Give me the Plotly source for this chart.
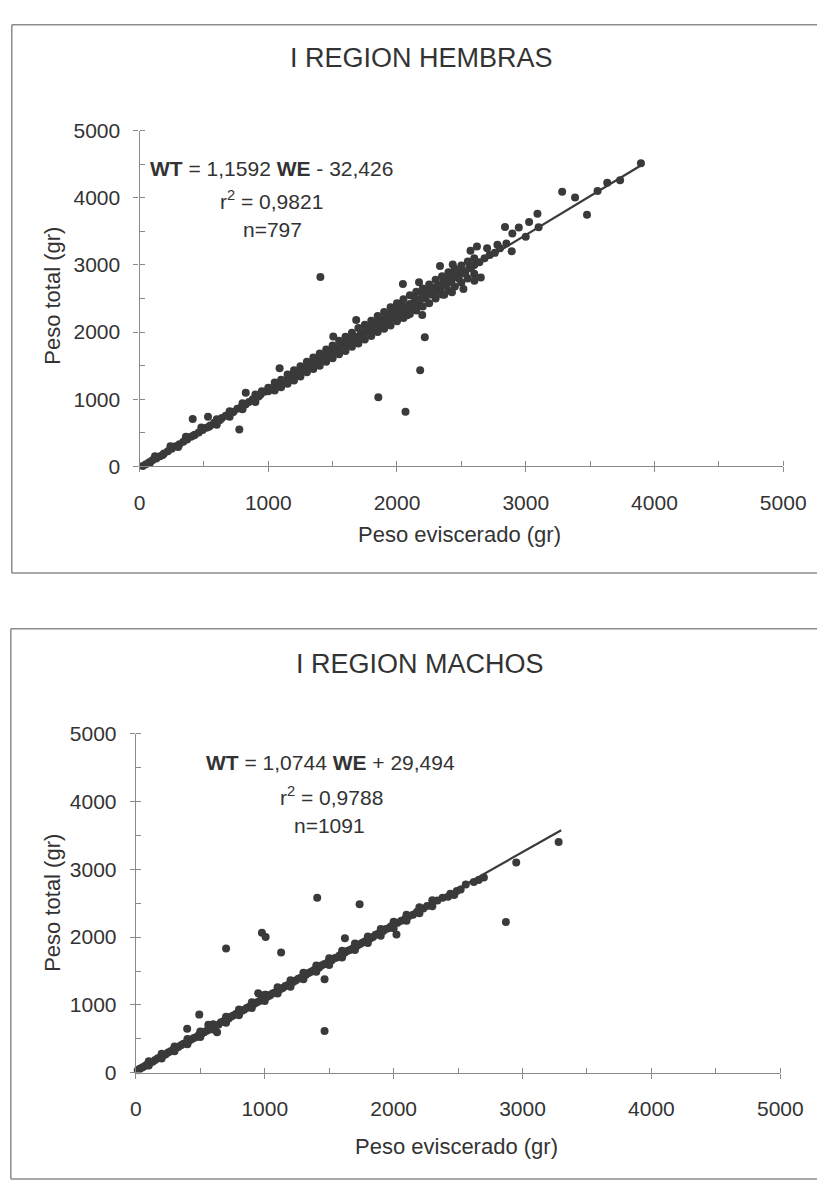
import plotly.graph_objects as go

# ---------------- data ----------------
hem_we = [25, 50, 75, 100, 130, 160, 190, 220, 250, 280, 310, 340, 370, 400, 430, 460, 490, 520,
          550, 580, 610, 640, 670, 700, 730, 760, 790, 820, 850, 880, 910, 940, 970, 1000, 1000,
          1030, 1060, 1090, 1100, 1120, 1150, 1170, 1200, 1220, 1250, 1270, 1300, 1310, 1340,
          1360, 1380, 1400, 1420, 1440, 1460, 1480, 1500, 1520, 1540, 1560, 1580, 1600, 1620,
          1640, 1660, 1680, 1700, 1720, 1740, 1760, 1780, 1800, 1820, 1840, 1860, 1880, 1900,
          1920, 1940, 1960, 1980, 2000, 2000, 2020, 2040, 2060, 2080, 2100, 2120, 2140, 2160,
          2180, 2200, 2220, 2240, 2260, 2280, 2300, 2320, 2340, 2360, 2380, 2400, 2420, 2450,
          2480, 2500, 2530, 2560, 2600, 2640, 2680, 2720, 2760, 2800,
          80, 120, 180, 240, 300, 360, 420, 480, 540,
          600, 600, 700, 700, 800, 800, 900, 900, 950, 1050, 1050, 1100, 1150, 1150, 1200, 1200,
          1250, 1250, 1300, 1300, 1350, 1350, 1400, 1400, 1450, 1450, 1500, 1500, 1550, 1550,
          1600, 1600, 1650, 1650, 1700, 1700, 1750, 1750, 1800, 1800, 1850, 1850, 1900, 1900,
          1950, 1950, 2000, 2000, 2050, 2050, 2100, 2100, 2150, 2150, 2200, 2200, 2250, 2250,
          2300, 2300, 2350, 2350, 2400, 2400, 2450, 2450, 2500, 2500, 2550, 2550, 2600, 2600,
          625, 725, 825, 925, 1025, 1075, 1125, 1175, 1225, 1275, 1325, 1375, 1425, 1475, 1525,
          1575, 1625, 1675, 1725, 1775, 1825, 1875, 1925, 1975, 2025, 2075, 2125, 2175, 2225,
          2275, 2325, 2375, 2425, 2475, 2525, 2575,
          2433, 2334, 2171, 2046, 2621, 2571, 2651, 2601, 2516, 2427, 2367, 2196, 2216, 2180,
          1855, 2066, 1405, 413, 532, 775, 1088, 825, 1505, 1683,
          2700, 2780, 2850, 2891, 2896, 2839, 2946, 3000, 3026, 3091, 3100, 3476, 3383, 3283,
          3558, 3633, 3733, 3895]
hem_wt = [5, 30, 60, 90, 118, 150, 190, 225, 262, 300, 330, 365, 402, 440, 470, 505, 540, 575,
          610, 650, 680, 720, 755, 790, 815, 860, 880, 920, 960, 1000, 1040, 1070, 1110, 1120, 1170,
          1160, 1220, 1230, 1290, 1260, 1300, 1350, 1340, 1400, 1390, 1450, 1440, 1520, 1510,
          1560, 1530, 1610, 1600, 1660, 1640, 1710, 1680, 1760, 1740, 1800, 1770, 1850, 1820,
          1900, 1860, 1930, 1900, 1990, 1960, 2040, 2000, 2090, 2040, 2140, 2090, 2190, 2130,
          2240, 2180, 2300, 2230, 2350, 2200, 2280, 2400, 2330, 2250, 2420, 2370, 2500, 2440,
          2400, 2560, 2500, 2620, 2560, 2660, 2600, 2700, 2640, 2760, 2700, 2800, 2740, 2860,
          2800, 2900, 2870, 2950, 3000, 3040, 3100, 3150, 3180, 3250,
          50, 150, 170, 300, 290, 440, 460, 580, 590,
          620, 700, 740, 820, 850, 940, 960, 1070, 1120, 1130, 1250, 1180, 1230, 1370, 1280, 1430,
          1340, 1490, 1400, 1560, 1450, 1620, 1500, 1680, 1560, 1740, 1610, 1800, 1670, 1870,
          1720, 1930, 1780, 1990, 1830, 2060, 1890, 2110, 1940, 2170, 2000, 2240, 2050, 2300,
          2100, 2370, 2160, 2430, 2210, 2490, 2270, 2550, 2320, 2600, 2380, 2650, 2430, 2710,
          2500, 2780, 2560, 2830, 2620, 2890, 2680, 2940, 2740, 2990, 2800, 3050, 2870, 3100,
          690, 810, 925, 1040, 1160, 1215, 1270, 1330, 1385, 1445, 1505, 1560, 1620, 1680, 1735,
          1795, 1850, 1910, 1965, 2025, 2085, 2140, 2200, 2260, 2315, 2375, 2430, 2490, 2545,
          2605, 2660, 2720, 2780, 2835, 2895, 2950,
          3008, 2984, 2741, 2716, 3276, 3211, 2813, 2765, 2643, 2594, 2555, 2255, 1924, 1430,
          1030, 812, 2820, 706, 739, 550, 1461, 1096, 1933, 2181,
          3250, 3300, 3320, 3203, 3469, 3567, 3557, 3420, 3640, 3761, 3560, 3746, 4004, 4091,
          4101, 4223, 4261, 4515]

mac_we = [15, 30, 50, 70, 90, 110, 130, 150, 170, 190, 210, 230, 250, 270, 290, 310, 330, 350,
          370, 390, 410, 430, 450, 470, 490, 510, 530, 550, 562, 570, 590, 610, 630, 640, 660,
          680, 700, 720, 740, 760, 780, 800, 820, 840, 860, 880, 900, 920, 940, 960, 980, 1000,
          1010, 1020, 1040, 1060, 1080, 1100, 1120, 1140, 1160, 1180, 1200, 1220, 1240, 1260,
          1280, 1300, 1320, 1340, 1360, 1380, 1400, 1420, 1440, 1460, 1480, 1500, 1520, 1540,
          1560, 1580, 1600, 1620, 1640, 1660, 1680, 1700, 1720, 1740, 1760, 1780, 1800, 1820,
          1840, 1860, 1880, 1900, 1920, 1940, 1960, 1980, 2000, 2030, 2060, 2090, 2120, 2150,
          2180, 2200, 2230, 2260, 2300, 2340, 2380, 2422, 2440, 2470, 2490, 2520, 2560, 2622,
          2660, 2700, 2951, 3280,
          100, 100, 200, 200, 300, 300, 400, 400, 500, 500, 600, 600, 700, 700, 800, 800,
          900, 900, 1000, 1000, 1100, 1100, 1200, 1200, 1300, 1300, 1400, 1400, 1500, 1500,
          1600, 1600, 1700, 1700, 1800, 1800, 1900, 1900, 2000, 2000, 2100, 2100, 2200, 2200,
          2300, 2300,
          1407, 1736, 1622, 978, 1007, 700, 1127, 1464, 1464, 492, 398, 949, 2022, 2871]
mac_wt = [40, 62, 80, 100, 128, 150, 165, 190, 215, 230, 255, 272, 300, 318, 340, 365, 380, 405,
          428, 445, 470, 490, 515, 530, 560, 575, 600, 620, 708, 640, 665, 690, 600, 710, 745,
          760, 785, 800, 830, 850, 870, 885, 912, 930, 955, 975, 995, 1020, 1040, 1060, 1085, 1100,
          1150, 1120, 1140, 1170, 1185, 1215, 1230, 1250, 1280, 1295, 1320, 1340, 1360, 1385,
          1400, 1430, 1445, 1470, 1490, 1510, 1540, 1550, 1580, 1600, 1615, 1650, 1660, 1690,
          1700, 1730, 1745, 1770, 1795, 1810, 1830, 1860, 1875, 1900, 1920, 1940, 1960, 1985,
          2000, 2035, 2050, 2075, 2090, 2120, 2130, 2160, 2180, 2210, 2240, 2270, 2310, 2330,
          2370, 2400, 2420, 2460, 2490, 2540, 2580, 2595, 2640, 2620, 2680, 2700, 2774, 2812,
          2840, 2880, 3101, 3401,
          110, 170, 210, 280, 320, 390, 420, 500, 530, 610, 640, 715, 740, 825, 850, 935,
          955, 1040, 1060, 1150, 1170, 1260, 1270, 1365, 1380, 1475, 1490, 1580, 1590, 1690,
          1700, 1800, 1810, 1905, 1915, 2010, 2020, 2120, 2130, 2225, 2240, 2330, 2350, 2440,
          2455, 2545,
          2581, 2485, 1983, 2065, 2002, 1833, 1775, 1380, 618, 858, 651, 1172, 2040, 2224]

titles = ["I REGION HEMBRAS", "I REGION MACHOS"]
slopes = [1.1592, 1.0744]
intercepts = [-32.426, 29.494]
line_x = [[28, 3900], [0, 3300]]
eq_text = ["<b>WT</b> = 1,1592 <b>WE</b> - 32,426", "<b>WT</b> = 1,0744 <b>WE</b> + 29,494"]
r2_text = ["r<sup>2</sup> = 0,9821", "r<sup>2</sup> = 0,9788"]
n_text = ["n=797", "n=1091"]
x_title = "Peso eviscerado (gr)"
y_title = "Peso total (gr)"

# ---------------- layout geometry ----------------
W, H = 840, 1193
def px(x):
    return x / W
def py(y):
    return 1 - y / H

FONT = "Liberation Sans, Arial, sans-serif"
TXT = "#333333"
AX = "#8a8a8a"
MK = "#3a3a3a"

fig = go.Figure()

series = [(hem_we, hem_wt), (mac_we, mac_wt)]
for i, (xs, ys) in enumerate(series):
    xa = "x" if i == 0 else "x2"
    ya = "y" if i == 0 else "y2"
    fig.add_trace(go.Scatter(x=xs, y=ys, mode="markers", xaxis=xa, yaxis=ya,
                             marker=dict(size=8, color=MK), cliponaxis=False,
                             showlegend=False, hoverinfo="skip"))
    lx = line_x[i]
    ly = [slopes[i] * v + intercepts[i] for v in lx]
    fig.add_trace(go.Scatter(x=lx, y=ly, mode="lines", xaxis=xa, yaxis=ya,
                             line=dict(color=MK, width=2.2), cliponaxis=False,
                             showlegend=False, hoverinfo="skip"))

def axis_style(domain, anchor, is_x):
    d = dict(domain=domain, anchor=anchor, range=[0, 5000], dtick=1000, tick0=0,
             showgrid=False, zeroline=False, showline=True, linecolor=AX, linewidth=1.2,
             ticks="outside", ticklen=5, tickwidth=1, tickcolor=AX,
             minor=dict(ticks="inside", ticklen=5, dtick=500, tickcolor=AX, tickwidth=1, showgrid=False),
             tickfont=dict(family=FONT, size=21, color=TXT), fixedrange=True)
    d["ticklabelstandoff"] = 12 if is_x else 9
    return d

fig.update_layout(
    width=W, height=H, margin=dict(l=0, r=0, t=0, b=0),
    paper_bgcolor="white", plot_bgcolor="white",
    xaxis=axis_style([px(138.3), px(805)], "y", True),
    yaxis=axis_style([py(463.3), py(121)], "x", False),
    xaxis2=axis_style([px(134.5), px(802)], "y2", True),
    yaxis2=axis_style([py(1081.7), py(735.7)], "x2", False),
)

# frames around each chart (right side runs off the page)
shapes = []
FR = dict(color="#8c8c8c", width=1.5)
for (x0, top, bottom) in [(6, 13, 572), (5, 629, 1190)]:
    shapes.append(dict(type="line", xref="paper", yref="paper", x0=px(x0), x1=1.0,
                       y0=py(top), y1=py(top), line=FR))
    shapes.append(dict(type="line", xref="paper", yref="paper", x0=px(x0), x1=1.0,
                       y0=py(bottom), y1=py(bottom), line=FR))
    shapes.append(dict(type="line", xref="paper", yref="paper", x0=px(x0), x1=px(x0),
                       y0=py(bottom), y1=py(top), line=FR))
fig.update_layout(shapes=shapes)

ann = []
def add_text(text, x, y, size, angle=0):
    ann.append(dict(text=text, x=px(x), y=py(y), xref="paper", yref="paper",
                    xanchor="center", yanchor="middle", showarrow=False, textangle=angle,
                    font=dict(family=FONT, size=size, color=TXT)))

title_pos = [(430, 47), (429, 665)]
eq_pos = [(275, 160), (336, 765)]
r2_pos = [(275, 192), (337, 799)]
n_pos = [(276, 222), (335, 829)]
xt_pos = [(470, 533), (467, 1157)]
yt_pos = [(48, 289), (48, 908)]
for i in range(2):
    add_text(titles[i], *title_pos[i], 27)
    add_text(eq_text[i], *eq_pos[i], 21)
    add_text(r2_text[i], *r2_pos[i], 21)
    add_text(n_text[i], *n_pos[i], 21)
    add_text(x_title, *xt_pos[i], 22)
    add_text(y_title, *yt_pos[i], 22, angle=-90)
fig.update_layout(annotations=ann)

fig.write_html("out.html")
